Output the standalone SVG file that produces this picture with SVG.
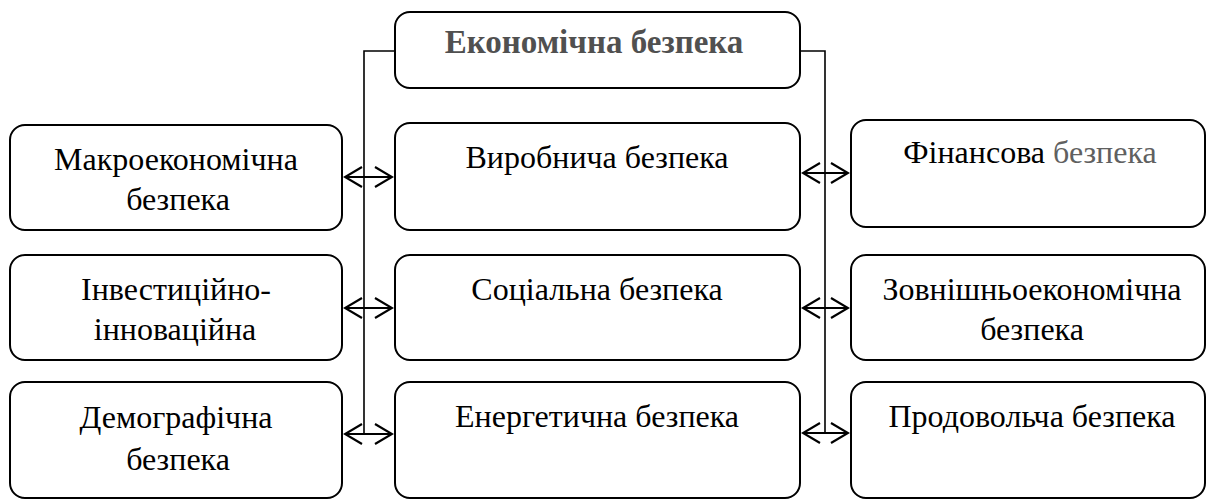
<svg xmlns="http://www.w3.org/2000/svg" width="1208" height="499" viewBox="0 0 1208 499">
<defs>
<marker id="ah" viewBox="0 0 20 22" refX="18" refY="11" markerWidth="20" markerHeight="22" markerUnits="userSpaceOnUse" orient="auto-start-reverse">
<path d="M1,1 L18,11 L1,21" fill="none" stroke="#000" stroke-width="2.2"/>
</marker>
<style>
.box{fill:#fff;stroke:#000;stroke-width:2}
.ln{fill:none;stroke:#000;stroke-width:1.6}
.ar{fill:none;stroke:#000;stroke-width:2.2;marker-start:url(#ah);marker-end:url(#ah)}
</style>
</defs>
<rect width="1208" height="499" fill="#fff"/>
<g id="connectors">
<path class="ln" d="M395,51 H364 V434"/>
<path class="ln" d="M800,51 H825 V433"/>
<line class="ar" x1="345" y1="177" x2="392" y2="177"/>
<line class="ar" x1="345" y1="308" x2="392" y2="308"/>
<line class="ar" x1="345" y1="434" x2="392" y2="434"/>
<line class="ar" x1="803" y1="173" x2="848" y2="173"/>
<line class="ar" x1="803" y1="308" x2="848" y2="308"/>
<line class="ar" x1="803" y1="433" x2="848" y2="433"/>
</g>
<g id="top">
<rect class="box" x="395" y="12" width="405" height="76" rx="15"/>
<text font-family="Liberation Serif" font-size="33" font-weight="bold" fill="#505050" text-anchor="middle" x="594" y="53">Економічна безпека</text>
</g>
<g id="macro">
<rect class="box" x="10" y="125" width="332" height="105" rx="15"/>
<text font-family="Liberation Serif" font-size="32" text-anchor="middle" x="176" y="170">Макроекономічна</text>
<text font-family="Liberation Serif" font-size="32" text-anchor="middle" x="178" y="210">безпека</text>
</g>
<g id="invest">
<rect class="box" x="10" y="255" width="332" height="105" rx="15"/>
<text font-family="Liberation Serif" font-size="32" text-anchor="middle" x="176" y="300">Інвестиційно-</text>
<text font-family="Liberation Serif" font-size="32" text-anchor="middle" x="175" y="340">інноваційна</text>
</g>
<g id="demo">
<rect class="box" x="10" y="382" width="332" height="116" rx="15"/>
<text font-family="Liberation Serif" font-size="32" text-anchor="middle" x="176" y="428">Демографічна</text>
<text font-family="Liberation Serif" font-size="32" text-anchor="middle" x="178" y="470">безпека</text>
</g>
<g id="vyrob">
<rect class="box" x="395" y="123" width="405" height="107" rx="15"/>
<text font-family="Liberation Serif" font-size="32" text-anchor="middle" x="597" y="168">Виробнича безпека</text>
</g>
<g id="social">
<rect class="box" x="395" y="255" width="405" height="105" rx="15"/>
<text font-family="Liberation Serif" font-size="32" text-anchor="middle" x="597" y="300">Соціальна безпека</text>
</g>
<g id="energy">
<rect class="box" x="395" y="382" width="405" height="116" rx="15"/>
<text font-family="Liberation Serif" font-size="32" text-anchor="middle" x="597" y="427">Енергетична безпека</text>
</g>
<g id="finance">
<rect class="box" x="851" y="120" width="354" height="107" rx="15"/>
<text font-family="Liberation Serif" font-size="32" text-anchor="middle" x="1030" y="163">Фінансова <tspan fill="#606060">безпека</tspan></text>
</g>
<g id="foreign">
<rect class="box" x="851" y="255" width="354" height="105" rx="15"/>
<text font-family="Liberation Serif" font-size="32" text-anchor="middle" x="1032" y="300">Зовнішньоекономічна</text>
<text font-family="Liberation Serif" font-size="32" text-anchor="middle" x="1032" y="340">безпека</text>
</g>
<g id="food">
<rect class="box" x="851" y="382" width="354" height="116" rx="15"/>
<text font-family="Liberation Serif" font-size="32" text-anchor="middle" x="1032" y="427">Продовольча безпека</text>
</g>
</svg>
